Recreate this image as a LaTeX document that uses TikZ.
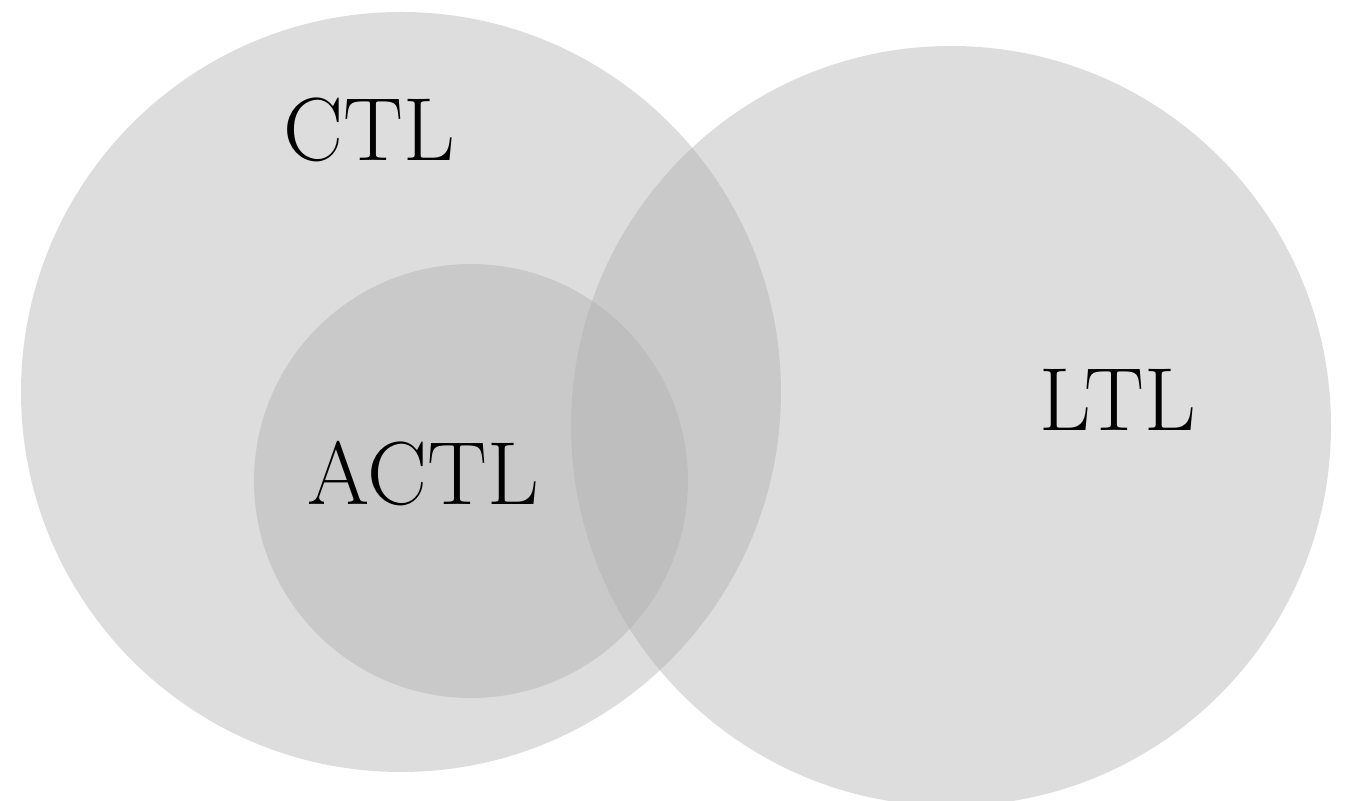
\documentclass[tikz,border=0pt]{standalone}
\usepackage{tikz}
\usetikzlibrary{positioning}
\definecolor{venngray}{RGB}{174,174,174}
\tikzstyle{venn}=[circle, fill=venngray, fill opacity=0.42, inner sep=0pt]
\tikzstyle{logic}=[font=\fontsize{25.5}{30}\selectfont, text=black]

\begin{document}
\begin{tikzpicture}
	\useasboundingbox (0,0) rectangle (13.48,-8.01);
	\node[venn, minimum size=7.6cm] (ctl) at (4.01,-3.92) {};
	\node[venn, minimum size=4.34cm] (actl) at (4.71,-4.81) {};
	\node[venn, minimum size=7.6cm] (ltl) at (9.51,-4.26) {};
	\node[logic] (ctlname) at (3.69,-1.30) {CTL};
	\node[logic] (ltlname) at (11.18,-4.00) {LTL};
	\node[logic] (actlname) at (4.23,-4.74) {ACTL};
\end{tikzpicture}
\end{document}
